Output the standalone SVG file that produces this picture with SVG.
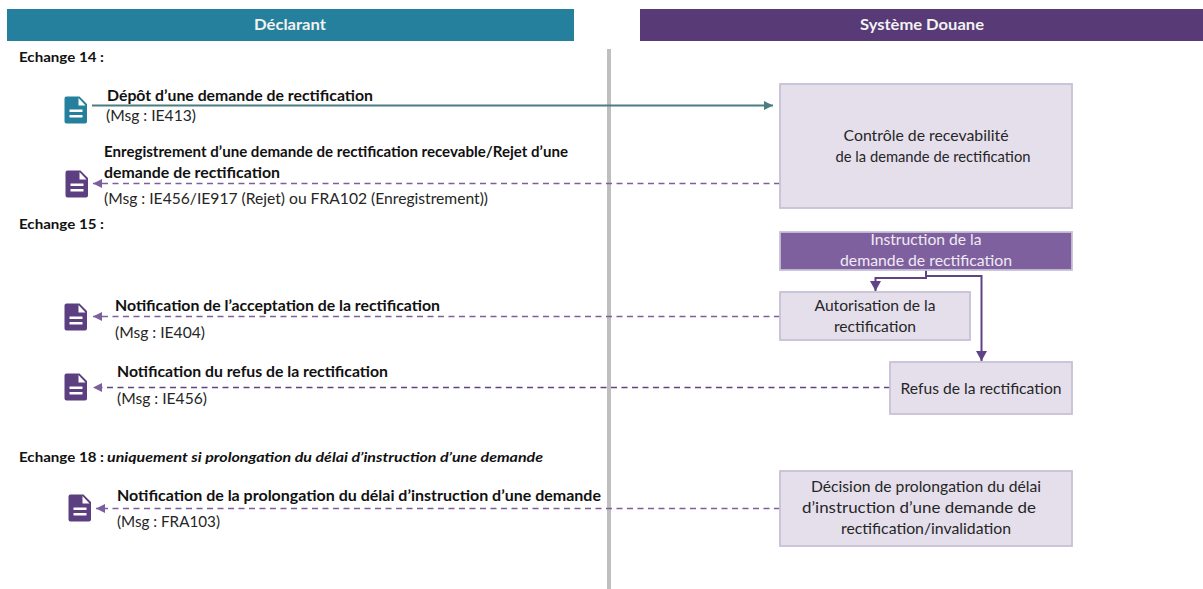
<svg xmlns="http://www.w3.org/2000/svg" xmlns:xlink="http://www.w3.org/1999/xlink" width="1203" height="589" viewBox="0 0 1203 589">
<style>
text{font-family:Lato,"Open Sans","Liberation Sans",sans-serif;font-size:15px;fill:#262626}
.b{font-weight:700;fill:#111}
.e{font-weight:700;font-size:14px;fill:#111}
.c{text-anchor:middle}
.h{font-weight:700;font-size:16px;fill:#f2f2f2;text-anchor:middle}
.box{fill:#e5dfec;stroke:#c8c0d6;stroke-width:1.800}
.dash{fill:none;stroke-width:1.600;stroke-dasharray:6 4.500}
.p{stroke:#5f4384}
.lp{stroke:#7d5f9f}
.flow{fill:none;stroke:#5f4384;stroke-width:2}
</style>
<defs>
<marker id="at" markerUnits="userSpaceOnUse" markerWidth="10" markerHeight="10" refX="9" refY="5" orient="auto"><path d="M0 0.500L9 5L0 9.500Z" fill="#4d7c82"/></marker>
<marker id="ap" markerUnits="userSpaceOnUse" markerWidth="10" markerHeight="10" refX="9" refY="5" orient="auto"><path d="M0 0.500L9 5L0 9.500Z" fill="#7d5f9f"/></marker>
<marker id="ad" markerUnits="userSpaceOnUse" markerWidth="12" markerHeight="12" refX="10" refY="5.500" orient="auto"><path d="M0 0L10 5.500L0 11Z" fill="#5f4384"/></marker>
<path id="doc" d="M-9.500 -13.500H3.500L11 -6V11.500Q11 13.500 9 13.500H-9.500Q-11.500 13.500 -11.500 11.500V-11.500Q-11.500 -13.500 -9.500 -13.500ZM2.500 -12V-4.500H9.500ZM-6.500 -0.500V2H6.500V-0.500ZM-6.500 5V7.500H6.500V5Z" fill-rule="evenodd"/>
</defs>
<g id="header-declarant"><rect x="7" y="9" width="567" height="32" fill="#24809c"/><text class="h" x="290" y="30" textLength="72" lengthAdjust="spacingAndGlyphs">Déclarant</text></g>
<g id="header-systeme"><rect x="640" y="9" width="563" height="32" fill="#583a76"/><text class="h" x="922" y="30" textLength="124" lengthAdjust="spacingAndGlyphs">Système Douane</text></g>
<rect id="separator" x="607" y="49" width="4" height="540" fill="#bfbfbf"/>
<g id="labels">
<text class="e" x="19" y="62" textLength="85" lengthAdjust="spacingAndGlyphs">Echange 14 :</text>
<text class="e" x="19" y="229" textLength="85" lengthAdjust="spacingAndGlyphs">Echange 15 :</text>
<text class="e" x="19" y="462" textLength="85" lengthAdjust="spacingAndGlyphs">Echange 18 :</text>
<text class="e" x="107" y="462" font-style="italic" textLength="436" lengthAdjust="spacingAndGlyphs">uniquement si prolongation du délai d’instruction d’une demande</text>
<text class="b" x="107" y="101" textLength="266" lengthAdjust="spacingAndGlyphs">Dépôt d’une demande de rectification</text>
<text x="106" y="121" textLength="90" lengthAdjust="spacingAndGlyphs">(Msg : IE413)</text>
<text class="b" x="104" y="157" textLength="464" lengthAdjust="spacingAndGlyphs">Enregistrement d’une demande de rectification recevable/Rejet d’une</text>
<text class="b" x="104" y="178" textLength="176" lengthAdjust="spacingAndGlyphs">demande de rectification</text>
<text x="104" y="204" textLength="384" lengthAdjust="spacingAndGlyphs">(Msg : IE456/IE917 (Rejet) ou FRA102 (Enregistrement))</text>
<text class="b" x="115" y="311" textLength="325" lengthAdjust="spacingAndGlyphs">Notification de l’acceptation de la rectification</text>
<text x="115" y="338" textLength="90" lengthAdjust="spacingAndGlyphs">(Msg : IE404)</text>
<text class="b" x="117" y="377" textLength="271" lengthAdjust="spacingAndGlyphs">Notification du refus de la rectification</text>
<text x="117" y="404" textLength="90" lengthAdjust="spacingAndGlyphs">(Msg : IE456)</text>
<text class="b" x="117" y="501" textLength="484" lengthAdjust="spacingAndGlyphs">Notification de la prolongation du délai d’instruction d’une demande</text>
<text x="117" y="527" textLength="103" lengthAdjust="spacingAndGlyphs">(Msg : FRA103)</text>
</g>
<g id="icons">
<use id="icon-1" xlink:href="#doc" href="#doc" x="76" y="110" fill="#24809c"/>
<use id="icon-2" xlink:href="#doc" href="#doc" x="77" y="184" fill="#5c3f80"/>
<use id="icon-3" xlink:href="#doc" href="#doc" x="76" y="317" fill="#5c3f80"/>
<use id="icon-4" xlink:href="#doc" href="#doc" x="76" y="387" fill="#5c3f80"/>
<use id="icon-5" xlink:href="#doc" href="#doc" x="80" y="508" fill="#5c3f80"/>
</g>
<g id="connectors">
<line x1="92" y1="105.500" x2="773" y2="105.500" stroke="#4d7c82" stroke-width="2" marker-end="url(#at)"/>
<line class="dash lp" x1="780" y1="183.500" x2="93" y2="183.500" marker-end="url(#ap)"/>
<line class="dash lp" x1="780" y1="316.500" x2="93" y2="316.500" marker-end="url(#ap)"/>
<line class="dash p" x1="890" y1="387.500" x2="93" y2="387.500" marker-end="url(#ap)"/>
<line class="dash lp" x1="780" y1="508.500" x2="96" y2="508.500" marker-end="url(#ap)"/>
<path class="flow" d="M926 270V278H875.500V291" marker-end="url(#ad)"/>
<path class="flow" d="M926 276H981.500V361" marker-end="url(#ad)"/>
</g>
<g id="node-controle"><rect class="box" x="780" y="84" width="292" height="124"/><text class="c" x="926" y="141" textLength="165" lengthAdjust="spacingAndGlyphs">Contrôle de recevabilité</text><text class="c" x="933" y="162" textLength="195" lengthAdjust="spacingAndGlyphs">de la demande de rectification</text></g>
<g id="node-instruction"><rect x="780" y="232" width="292" height="38" fill="#7f609e" stroke="#c8c0d6" stroke-width="1.800"/><text class="c" x="926" y="245" style="fill:#efeaf4" textLength="111" lengthAdjust="spacingAndGlyphs">Instruction de la</text><text class="c" x="926" y="266" style="fill:#efeaf4" textLength="172" lengthAdjust="spacingAndGlyphs">demande de rectification</text></g>
<g id="node-autorisation"><rect class="box" x="780" y="292" width="190" height="48"/><text class="c" x="875" y="311" textLength="121" lengthAdjust="spacingAndGlyphs">Autorisation de la</text><text class="c" x="875" y="332" textLength="82" lengthAdjust="spacingAndGlyphs">rectification</text></g>
<g id="node-refus"><rect class="box" x="890" y="362" width="182" height="52"/><text class="c" x="981" y="394" textLength="161" lengthAdjust="spacingAndGlyphs">Refus de la rectification</text></g>
<g id="node-decision"><rect class="box" x="780" y="471" width="292" height="75"/><text class="c" x="926" y="492" textLength="230" lengthAdjust="spacingAndGlyphs">Décision de prolongation du délai</text><text class="c" x="919" y="513" textLength="234" lengthAdjust="spacingAndGlyphs">d’instruction d’une demande de</text><text class="c" x="926" y="534" textLength="170" lengthAdjust="spacingAndGlyphs">rectification/invalidation</text></g>
</svg>
